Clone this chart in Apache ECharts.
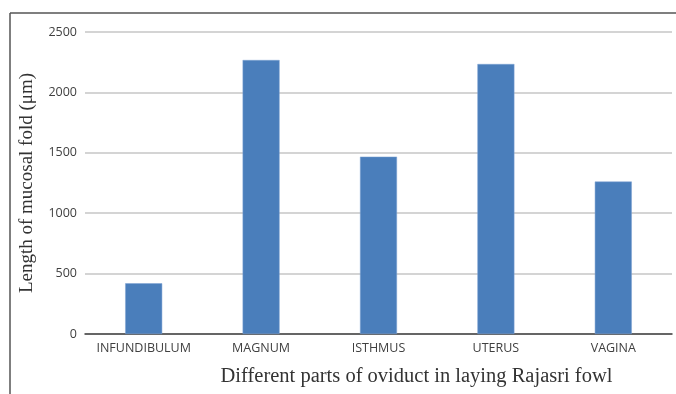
<!DOCTYPE html>
<html>
<head>
<meta charset="utf-8">
<script src="https://cdn.jsdelivr.net/npm/echarts@6/dist/echarts.min.js"></script>
<style>html,body{margin:0;padding:0;background:#fff}#c{width:676px;height:394px}</style>
</head>
<body>
<div id="c"></div>
<script>
const categories = ['INFUNDIBULUM', 'MAGNUM', 'ISTHMUS', 'UTERUS', 'VAGINA'];
const values = [420, 2268, 1468, 2235, 1262];
const yTicks = [0, 500, 1000, 1500, 2000, 2500];

const chart = echarts.init(document.getElementById('c'), null, {renderer: 'canvas'});
chart.setOption({
  animation: false,
  backgroundColor: '#fff',
  grid: {left: 85, right: 4, top: 32, bottom: 60, containLabel: false, outerBoundsMode: 'none'},
  graphic: [
    {type: 'line', shape: {x1: 10, y1: 13, x2: 676, y2: 13}, style: {stroke: '#555', lineWidth: 1.5}},
    {type: 'line', shape: {x1: 10, y1: 13, x2: 10, y2: 394}, style: {stroke: '#555', lineWidth: 1.5}}
  ],
  xAxis: {
    type: 'category',
    data: categories,
    name: 'Different parts of oviduct in laying Rajasri fowl',
    nameLocation: 'middle',
    nameGap: 32,
    nameTextStyle: {fontFamily: 'Liberation Serif', fontSize: 20.5, color: '#333', padding: [0, 0, 0, 76]},
    axisLine: {lineStyle: {color: '#404040', width: 1.5}},
    axisTick: {show: false},
    axisLabel: {fontFamily: 'Open Sans', fontSize: 12.5, color: '#404040', margin: 8, interval: 0}
  },
  yAxis: {
    type: 'value',
    min: yTicks[0],
    max: yTicks[yTicks.length - 1],
    interval: 500,
    name: 'Length of mucosal fold (μm)',
    nameLocation: 'middle',
    nameGap: 48,
    nameTextStyle: {fontFamily: 'Liberation Serif', fontSize: 19, color: '#333'},
    axisLine: {show: false},
    axisTick: {show: false},
    splitLine: {lineStyle: {color: '#c6c6c6', width: 1.5}},
    axisLabel: {fontFamily: 'Open Sans', fontSize: 12.5, color: '#404040', margin: 8, formatter: v => String(v)}
  },
  series: [{
    type: 'bar',
    data: values,
    barWidth: '31.5%',
    itemStyle: {color: '#4a7ebb', borderColor: '#7fa3d2', borderWidth: 0.5}
  }]
});
</script>
</body>
</html>
